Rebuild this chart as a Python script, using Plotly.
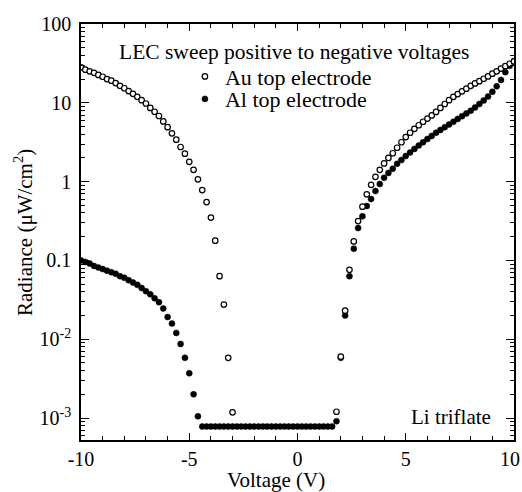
import plotly.graph_objects as go

# Voltage grid (V), sweep from positive to negative
voltage = [-10.0, -9.8, -9.6, -9.4, -9.2, -9.0, -8.8, -8.6, -8.4, -8.2,
           -8.0, -7.8, -7.6, -7.4, -7.2, -7.0, -6.8, -6.6, -6.4, -6.2,
           -6.0, -5.8, -5.6, -5.4, -5.2, -5.0, -4.8, -4.6, -4.4, -4.2,
           -4.0, -3.8, -3.6, -3.4, -3.2, -3.0, -2.8, -2.6, -2.4, -2.2,
           -2.0, -1.8, -1.6, -1.4, -1.2, -1.0, -0.8, -0.6, -0.4, -0.2,
           0.0, 0.2, 0.4, 0.6, 0.8, 1.0, 1.2, 1.4, 1.6, 1.8,
           2.0, 2.2, 2.4, 2.6, 2.8, 3.0, 3.2, 3.4, 3.6, 3.8,
           4.0, 4.2, 4.4, 4.6, 4.8, 5.0, 5.2, 5.4, 5.6, 5.8,
           6.0, 6.2, 6.4, 6.6, 6.8, 7.0, 7.2, 7.4, 7.6, 7.8,
           8.0, 8.2, 8.4, 8.6, 8.8, 9.0, 9.2, 9.4, 9.6, 9.8,
           10.0]

# Radiance (uW/cm^2), Au top electrode (None = below detection, not shown)
au_radiance = [28.2, 26.3, 25.1, 24.0, 22.6, 21.4, 20.0, 19.1, 17.8, 16.4,
               15.3, 14.1, 13.0, 11.9, 10.8, 9.8, 8.6, 7.7, 6.8, 5.8,
               4.9, 4.1, 3.4, 2.75, 2.26, 1.78, 1.41, 1.07, 0.78, 0.55,
               0.35, 0.178, 0.063, 0.0275, 0.0058, 0.00118, None, None, None, None,
               None, None, None, None, None, None, None, None, None, None,
               None, None, None, None, None, None, None, None, None, 0.0012,
               0.006, 0.023, 0.076, 0.174, 0.316, 0.48, 0.69, 0.91, 1.15, 1.41,
               1.70, 2.0, 2.29, 2.69, 3.16, 3.67, 4.17, 4.68, 5.19, 5.75,
               6.31, 6.92, 7.67, 8.61, 9.66, 10.8, 11.9, 12.9, 14.0, 15.1,
               16.4, 17.6, 18.8, 20.2, 21.6, 23.4, 25.1, 27.2, 29.2, 31.3,
               33.5]

# Radiance (uW/cm^2), Al top electrode
al_radiance = [0.100, 0.0955, 0.0912, 0.0851, 0.0813, 0.0776, 0.0741, 0.0708, 0.0676, 0.0631,
               0.0603, 0.0562, 0.0525, 0.0490, 0.0447, 0.0407, 0.0372, 0.0331, 0.0295, 0.0245,
               0.0191, 0.0158, 0.0120, 0.0087, 0.0058, 0.0037, 0.0020, 0.00105, 0.00078, 0.00078,
               0.00078, 0.00078, 0.00078, 0.00078, 0.00078, 0.00078, 0.00078, 0.00078, 0.00078, 0.00078,
               0.00078, 0.00078, 0.00078, 0.00078, 0.00078, 0.00078, 0.00078, 0.00078, 0.00078, 0.00078,
               0.00078, 0.00078, 0.00078, 0.00078, 0.00078, 0.00078, 0.00078, 0.00078, 0.00078, 0.00091,
               0.0058, 0.020, 0.063, 0.141, 0.257, 0.363, 0.49, 0.60, 0.76, 0.93,
               1.12, 1.29, 1.46, 1.68, 1.88, 2.11, 2.34, 2.60, 2.88, 3.16,
               3.47, 3.80, 4.17, 4.52, 4.90, 5.31, 5.75, 6.24, 6.76, 7.33,
               7.94, 8.71, 9.66, 10.7, 12.0, 13.8, 16.2, 19.5, 24.5, 29.5,
               33.9]

y_tickvals = [1e-3, 1e-2, 0.1, 1, 10, 100]
y_ticktext = ["10<sup>-3</sup>", "10<sup>-2</sup>", "0.1", "1", "10", "100"]
x_tickvals = [-10, -5, 0, 5, 10]
x_ticktext = ["-10", "-5", "0", "5", ""]
x_last_label = "10"  # drawn as an annotation so it stays inside the page

FONT = "Liberation Serif"

fig = go.Figure()
fig.add_trace(go.Scatter(
    x=voltage, y=al_radiance, mode="markers", name="Al top electrode",
    marker=dict(symbol="circle", size=6, color="black",
                line=dict(color="black", width=0.5)),
    legend="legend2"))
fig.add_trace(go.Scatter(
    x=voltage, y=au_radiance, mode="markers", name="Au top electrode",
    marker=dict(symbol="circle", size=5.5, color="white",
                line=dict(color="black", width=1.2)),
    legend="legend"))

y_minor = [k * 10.0 ** e for e in range(-4, 2) for k in range(2, 10)]

axis_common = dict(showline=True, linecolor="black", linewidth=1.5,
                   mirror="allticks", ticks="inside", tickcolor="black",
                   tickwidth=1, showgrid=False, zeroline=False,
                   automargin=False, ticklabeloverflow="allow",
                   tickfont=dict(family=FONT, size=20, color="black"))

fig.update_layout(
    width=522, height=492, autosize=False,
    margin=dict(l=81, r=8, t=24, b=52),
    paper_bgcolor="white", plot_bgcolor="white",
    font=dict(family=FONT, size=21, color="black"),
    xaxis=dict(range=[-10, 10], tickmode="array", tickvals=x_tickvals,
               ticktext=x_ticktext, ticklen=7,
               minor=dict(dtick=1, ticks="inside", ticklen=4,
                          tickcolor="black", tickwidth=1, showgrid=False),
               **axis_common),
    yaxis=dict(type="log", range=[-3.279, 2.0], tickmode="array",
               tickvals=y_tickvals, ticktext=y_ticktext, ticklen=8,
               ticklabelstandoff=4,
               minor=dict(tickmode="array", tickvals=y_minor, ticks="inside",
                          ticklen=4, tickcolor="black", tickwidth=1,
                          showgrid=False),
               **axis_common),
    legend=dict(x=0.24, y=0.924, xanchor="left", yanchor="top",
                bgcolor="rgba(0,0,0,0)", borderwidth=0,
                font=dict(family=FONT, size=22, color="black"),
                itemwidth=30),
    legend2=dict(x=0.24, y=0.870, xanchor="left", yanchor="top",
                 bgcolor="rgba(0,0,0,0)", borderwidth=0,
                 font=dict(family=FONT, size=22, color="black"),
                 itemwidth=30),
    showlegend=True,
)

fig.add_annotation(text=x_last_label, xref="paper", yref="paper",
                   x=1.0185, y=-0.0455, xanchor="right", yanchor="middle",
                   showarrow=False,
                   font=dict(family=FONT, size=20, color="black"))
fig.add_annotation(text="LEC sweep positive to negative voltages",
                   xref="paper", yref="paper", x=0.494, y=0.933,
                   xanchor="center", yanchor="middle", showarrow=False,
                   font=dict(family=FONT, size=21.5, color="black"))
fig.add_annotation(text="Li triflate", xref="paper", yref="paper",
                   x=0.951, y=0.055, xanchor="right", yanchor="middle",
                   showarrow=False,
                   font=dict(family=FONT, size=21, color="black"))
fig.add_annotation(text="Voltage (V)", xref="paper", yref="paper",
                   x=0.450, y=-0.096, xanchor="center", yanchor="middle",
                   showarrow=False,
                   font=dict(family=FONT, size=21, color="black"))
fig.add_annotation(text="Radiance (\u03bcW/cm<sup>2</sup>)", xref="paper",
                   yref="paper", x=-0.134, y=0.5, xanchor="center",
                   yanchor="middle", textangle=-90, showarrow=False,
                   font=dict(family=FONT, size=21, color="black"))

fig.write_html("out.html")
